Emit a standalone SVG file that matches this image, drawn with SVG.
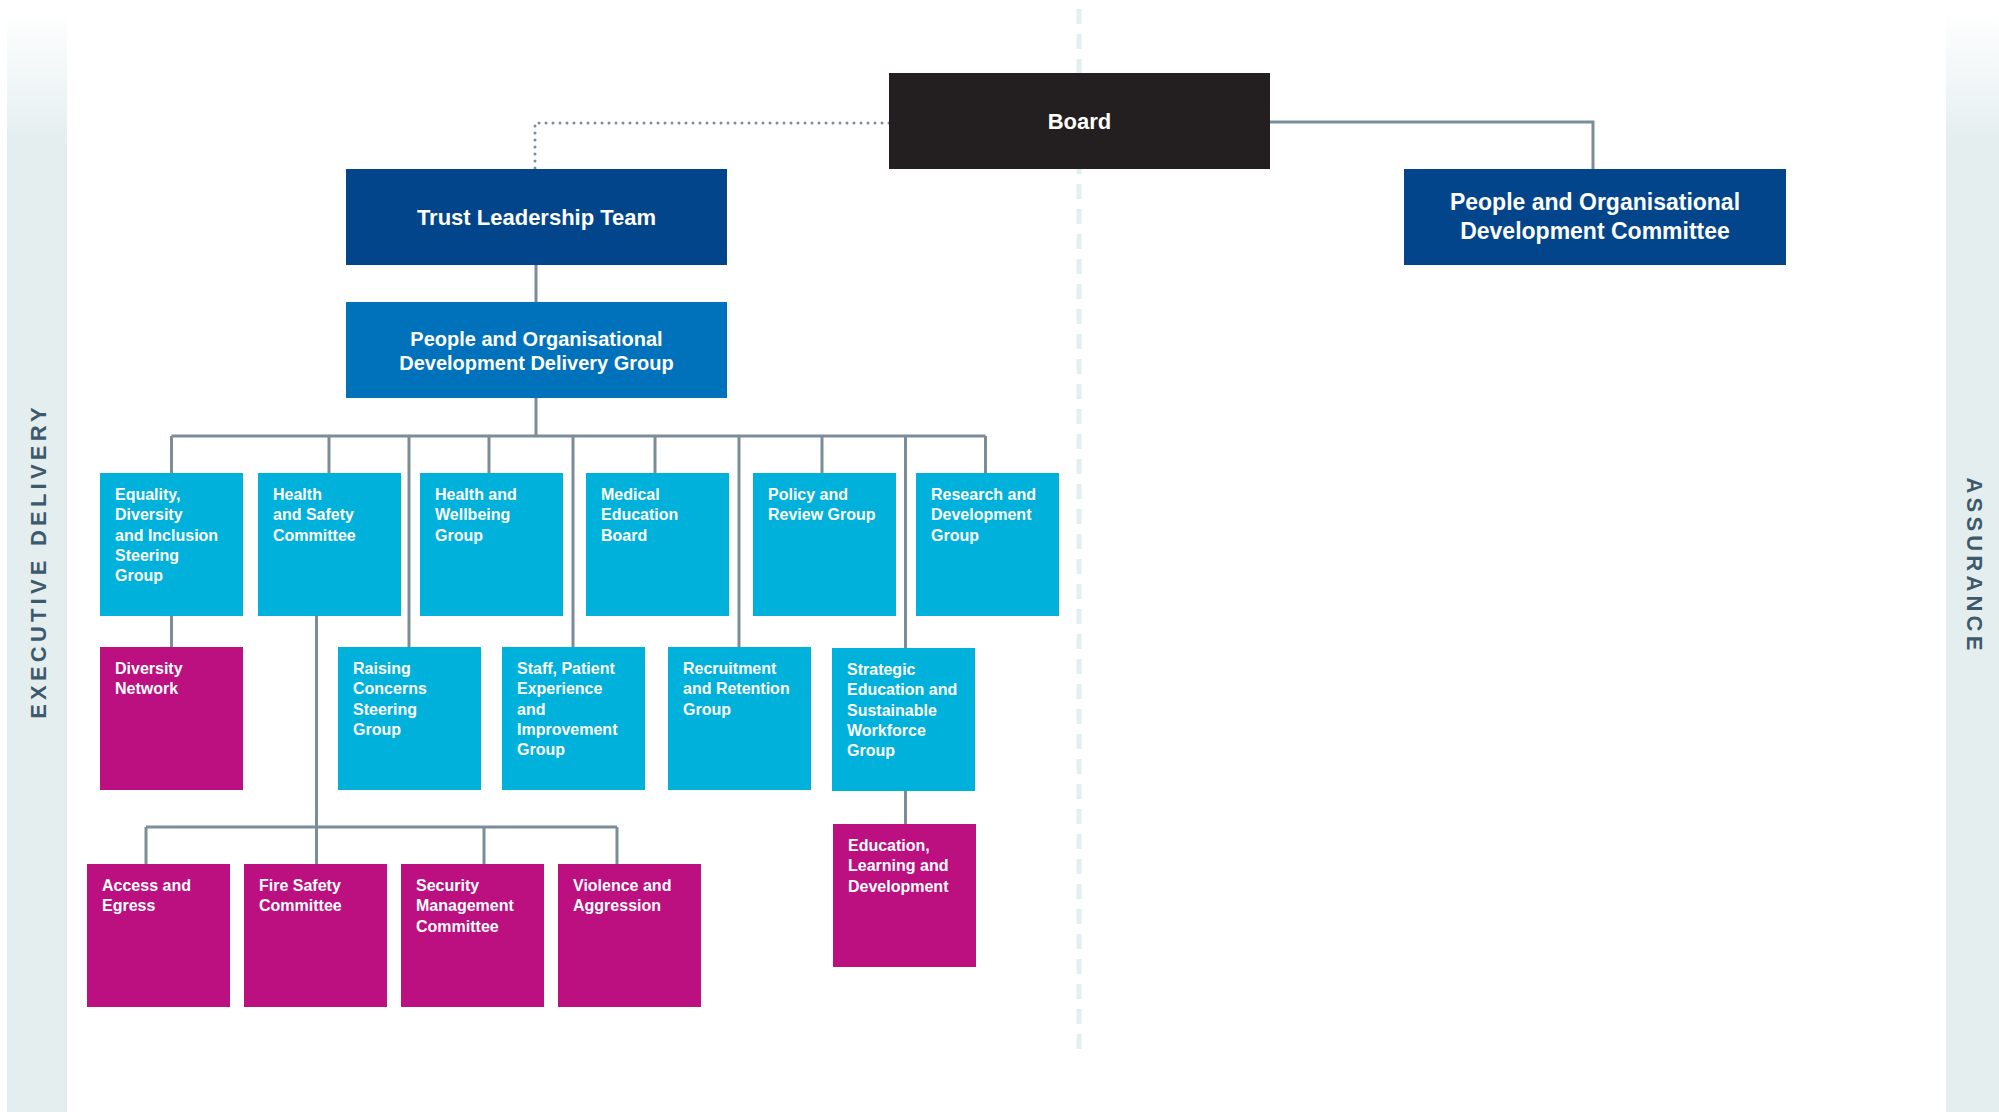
<svg xmlns="http://www.w3.org/2000/svg" width="1999" height="1112" viewBox="0 0 1999 1112">
<defs>
<linearGradient id="band" x1="0" y1="0" x2="0" y2="1">
<stop offset="0" stop-color="#ffffff"/>
<stop offset="0.12" stop-color="#e4eeef"/>
<stop offset="1" stop-color="#e4eeef"/>
</linearGradient>
<style>
.conn{fill:none;stroke:#7a8d98;stroke-width:3}
.dot{fill:none;stroke:#7a8d98;stroke-width:3;stroke-linecap:round;stroke-dasharray:0 7}
.divider{fill:none;stroke:#e3eef0;stroke-width:5;stroke-dasharray:15 10}
.dark{fill:#02458b}
.mid{fill:#0071bb}
.cyan{fill:#00b1dc}
.mag{fill:#bc0f80}
.board{fill:#231f20}
text{font-family:"Liberation Sans",Arial,sans-serif;font-weight:bold;fill:#ffffff}
.big{font-size:22px;text-anchor:middle}
.big2{font-size:23px;text-anchor:middle}
.med{font-size:20px;text-anchor:middle}
.sm{font-size:16px}
.side{font-size:22px;fill:#3d5a6c;letter-spacing:4.2px;text-anchor:middle}
</style>
</defs>
<rect width="1999" height="1112" fill="#ffffff"/>
<rect x="7" y="12" width="60" height="1100" fill="url(#band)"/>
<rect x="1946" y="12" width="53" height="1100" fill="url(#band)"/>
<text class="side" transform="translate(46,563) rotate(-90)" dx="2">EXECUTIVE DELIVERY</text>
<text class="side" transform="translate(1967,564) rotate(90)" dx="2">ASSURANCE</text>
<line class="divider" x1="1079" y1="9" x2="1079" y2="1058"/>

<g id="connectors">
<path class="conn" d="M1270 122 H1593 V169"/>
<path class="dot" d="M889 123 H535 V169"/>
<path class="conn" d="M536 265 V302"/>
<path class="conn" d="M536 398 V436"/>
<path class="conn" d="M171.5 436 H985.5"/>
<path class="conn" d="M171.5 436 V473 M329 436 V473 M489 436 V473 M655 436 V473 M822 436 V473 M985.5 436 V473"/>
<path class="conn" d="M409 436 V647 M573 436 V647 M739 436 V647 M905.5 436 V648"/>
<path class="conn" d="M171.5 616 V647"/>
<path class="conn" d="M316.5 616 V827"/>
<path class="conn" d="M146 827 H617"/>
<path class="conn" d="M146 827 V864 M316.5 827 V864 M484 827 V864 M617 827 V864"/>
<path class="conn" d="M905.5 791 V824"/>
</g>

<g id="board">
<rect class="board" x="889" y="73" width="381" height="96"/>
<text class="big" x="1079.5" y="129">Board</text>
</g>
<g id="pod-committee">
<rect class="dark" x="1404" y="169" width="382" height="96"/>
<text class="big2" x="1595" y="210">People and Organisational</text>
<text class="big2" x="1595" y="239">Development Committee</text>
</g>
<g id="trust-leadership-team">
<rect class="dark" x="346" y="169" width="381" height="96"/>
<text class="big" x="536.5" y="225">Trust Leadership Team</text>
</g>
<g id="pod-delivery-group">
<rect class="mid" x="346" y="302" width="381" height="96"/>
<text class="med" x="536.5" y="345.5">People and Organisational</text>
<text class="med" x="536.5" y="369.5">Development Delivery Group</text>
</g>

<g id="edi-steering-group">
<rect class="cyan" x="100" y="473" width="143" height="143"/>
<text class="sm" x="115" y="500">Equality,</text>
<text class="sm" x="115" y="520.3">Diversity</text>
<text class="sm" x="115" y="540.6">and Inclusion</text>
<text class="sm" x="115" y="560.9">Steering</text>
<text class="sm" x="115" y="581.2">Group</text>
</g>
<g id="health-safety-committee">
<rect class="cyan" x="258" y="473" width="143" height="143"/>
<text class="sm" x="273" y="500">Health</text>
<text class="sm" x="273" y="520.3">and Safety</text>
<text class="sm" x="273" y="540.6">Committee</text>
</g>
<g id="health-wellbeing-group">
<rect class="cyan" x="420" y="473" width="143" height="143"/>
<text class="sm" x="435" y="500">Health and</text>
<text class="sm" x="435" y="520.3">Wellbeing</text>
<text class="sm" x="435" y="540.6">Group</text>
</g>
<g id="medical-education-board">
<rect class="cyan" x="586" y="473" width="143" height="143"/>
<text class="sm" x="601" y="500">Medical</text>
<text class="sm" x="601" y="520.3">Education</text>
<text class="sm" x="601" y="540.6">Board</text>
</g>
<g id="policy-review-group">
<rect class="cyan" x="753" y="473" width="143" height="143"/>
<text class="sm" x="768" y="500">Policy and</text>
<text class="sm" x="768" y="520.3">Review Group</text>
</g>
<g id="research-development-group">
<rect class="cyan" x="916" y="473" width="143" height="143"/>
<text class="sm" x="931" y="500">Research and</text>
<text class="sm" x="931" y="520.3">Development</text>
<text class="sm" x="931" y="540.6">Group</text>
</g>

<g id="diversity-network">
<rect class="mag" x="100" y="647" width="143" height="143"/>
<text class="sm" x="115" y="674">Diversity</text>
<text class="sm" x="115" y="694.3">Network</text>
</g>
<g id="raising-concerns">
<rect class="cyan" x="338" y="647" width="143" height="143"/>
<text class="sm" x="353" y="674">Raising</text>
<text class="sm" x="353" y="694.3">Concerns</text>
<text class="sm" x="353" y="714.6">Steering</text>
<text class="sm" x="353" y="734.9">Group</text>
</g>
<g id="staff-patient-experience">
<rect class="cyan" x="502" y="647" width="143" height="143"/>
<text class="sm" x="517" y="674">Staff, Patient</text>
<text class="sm" x="517" y="694.3">Experience</text>
<text class="sm" x="517" y="714.6">and</text>
<text class="sm" x="517" y="734.9">Improvement</text>
<text class="sm" x="517" y="755.2">Group</text>
</g>
<g id="recruitment-retention">
<rect class="cyan" x="668" y="647" width="143" height="143"/>
<text class="sm" x="683" y="674">Recruitment</text>
<text class="sm" x="683" y="694.3">and Retention</text>
<text class="sm" x="683" y="714.6">Group</text>
</g>
<g id="strategic-education">
<rect class="cyan" x="832" y="648" width="143" height="143"/>
<text class="sm" x="847" y="675">Strategic</text>
<text class="sm" x="847" y="695.3">Education and</text>
<text class="sm" x="847" y="715.6">Sustainable</text>
<text class="sm" x="847" y="735.9">Workforce</text>
<text class="sm" x="847" y="756.2">Group</text>
</g>

<g id="access-egress">
<rect class="mag" x="87" y="864" width="143" height="143"/>
<text class="sm" x="102" y="891">Access and</text>
<text class="sm" x="102" y="911.3">Egress</text>
</g>
<g id="fire-safety-committee">
<rect class="mag" x="244" y="864" width="143" height="143"/>
<text class="sm" x="259" y="891">Fire Safety</text>
<text class="sm" x="259" y="911.3">Committee</text>
</g>
<g id="security-management-committee">
<rect class="mag" x="401" y="864" width="143" height="143"/>
<text class="sm" x="416" y="891">Security</text>
<text class="sm" x="416" y="911.3">Management</text>
<text class="sm" x="416" y="931.6">Committee</text>
</g>
<g id="violence-aggression">
<rect class="mag" x="558" y="864" width="143" height="143"/>
<text class="sm" x="573" y="891">Violence and</text>
<text class="sm" x="573" y="911.3">Aggression</text>
</g>
<g id="education-learning-development">
<rect class="mag" x="833" y="824" width="143" height="143"/>
<text class="sm" x="848" y="851">Education,</text>
<text class="sm" x="848" y="871.3">Learning and</text>
<text class="sm" x="848" y="891.6">Development</text>
</g>
</svg>
